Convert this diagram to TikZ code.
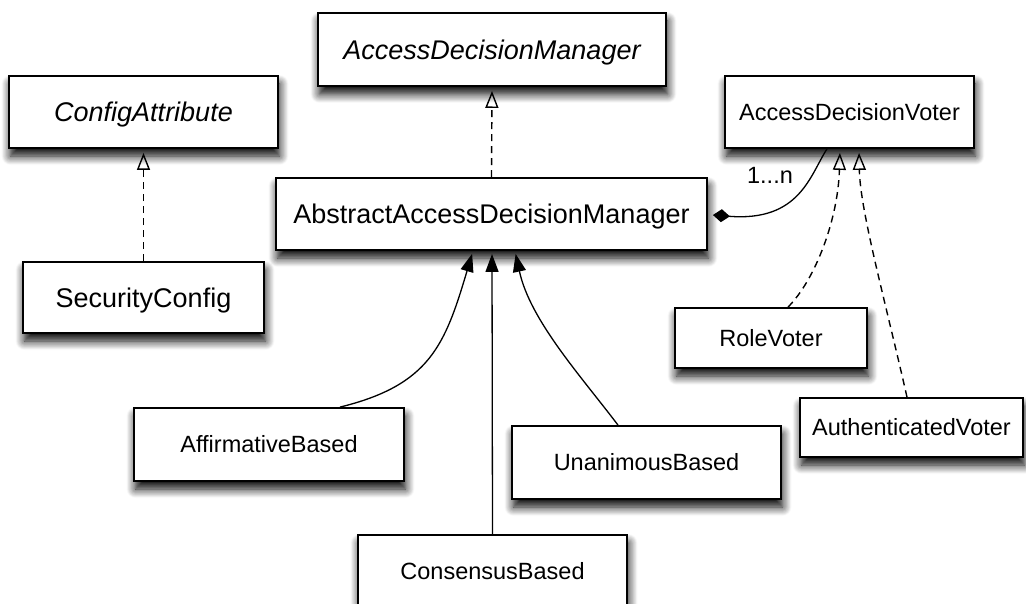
\documentclass[tikz,border=0pt]{standalone}
\usepackage{fontspec}
\setmainfont{Liberation Sans}
\usetikzlibrary{arrows.meta,calc,shadows.blur}
\begin{document}
\begin{tikzpicture}[x=1pt,y=-1pt,
  box/.style={draw, line width=1.8pt, fill=white, inner sep=0pt, text depth=0pt,
    blur shadow={shadow xshift=1.5pt, shadow yshift=-8pt, shadow blur radius=9pt, shadow opacity=100, shadow blur steps=12}},
  big/.style={box, font=\fontsize{27}{32}\selectfont, text height=19.4pt},
  small/.style={box, font=\fontsize{23.5}{28}\selectfont, text height=16.9pt},
  realize/.style={line width=1.4pt, dash pattern=on 7pt off 5pt,
    -{Triangle[open, length=17pt, width=13pt, line width=1.4pt]}, shorten >=4pt},
  inherit/.style={line width=1.3pt, -{Triangle[length=18pt, width=13pt]}, shorten >=3pt},
  compose/.style={line width=1.3pt, -{Diamond[length=17pt, width=13pt]}},
  lbl/.style={inner sep=0pt, font=\fontsize{23.5}{28}\selectfont}
]
\useasboundingbox (0,0) rectangle (1026,604);
\clip (0,0) rectangle (1026,604);

\node[big, minimum width=269pt, minimum height=72pt] (cfg) at (143.5,112) {\itshape ConfigAttribute};
\node[big, minimum width=348pt, minimum height=73pt] (adm) at (492,49.5) {\itshape AccessDecisionManager};
\node[big, minimum width=431pt, minimum height=72pt] (abs) at (491.5,214) {AbstractAccessDecisionManager};
\node[big, minimum width=241pt, minimum height=71pt] (sec) at (143.5,297.5) {SecurityConfig};
\node[small, minimum width=249pt, minimum height=72pt] (adv) at (849.5,112) {AccessDecisionVoter};
\node[small, minimum width=192pt, minimum height=60pt] (role) at (771,338) {RoleVoter};
\node[small, minimum width=223pt, minimum height=59pt] (auth) at (911.5,427.5) {AuthenticatedVoter};
\node[small, minimum width=270pt, minimum height=73pt] (aff) at (269,444.5) {AffirmativeBased};
\node[small, minimum width=269pt, minimum height=73pt] (una) at (646.5,462.5) {UnanimousBased};
\node[small, minimum width=269pt, minimum height=73pt] (con) at (492.5,571.5) {ConsensusBased};

% realizations
\draw[realize] (sec.north) -- (cfg.south);
\draw[realize] (abs.north) -- (adm.south);
\draw[realize] ($(role.north)+(17,0)$) .. controls (815,280) and (838,220) .. ($(adv.south)+(-9.5,0)$);
\draw[realize] ($(auth.north)+(-4.5,0)$) .. controls (885,300) and (860,210) .. ($(adv.south)+(9.5,0)$);

% generalizations
\draw[inherit] ($(aff.north)+(71,0)$) .. controls (430,385) and (445,345) .. ($(abs.south)+(-18.5,0)$);
\draw[inherit] (con.north) -- ($(abs.south)+(0.5,0)$);
\draw[inherit] ($(una.north)+(-28.5,0)$) .. controls (580,375) and (530,320) .. ($(abs.south)+(23.5,0)$);

% composition
\draw[compose] ($(adv.south)+(-22.5,0)$) .. controls (810,175) and (800,222) .. ($(abs.east)+(5,1)$);
\node[lbl] (mult) at (770,175) {1...n};
\end{tikzpicture}
\end{document}
